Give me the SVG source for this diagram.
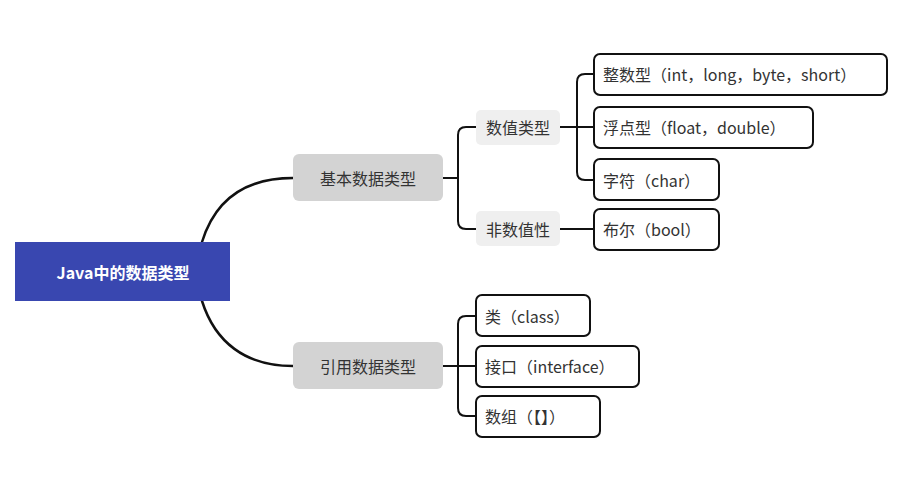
<svg xmlns="http://www.w3.org/2000/svg" width="901" height="484" viewBox="0 0 901 484">
<style>
text{font-family:"Noto Sans CJK SC","Noto Sans",sans-serif;font-size:16px;fill:#333;dominant-baseline:central}
.c{fill:none;stroke:#111;stroke-width:2.5;stroke-linecap:round}
.l{fill:none;stroke:#111;stroke-width:2}
.leaf{fill:#fff;stroke:#111;stroke-width:2}
.g1{fill:#d3d3d3}
.g2{fill:#efefef}
</style>
<rect width="901" height="484" fill="#fff"/>
<g id="connectors">
<path class="c" d="M202,242 C215,200 245,178 293,178"/>
<path class="c" d="M202,301 C215,342 245,366 293,366"/>
<path class="l" d="M443,178H458M476,127H466Q458,127 458,135V221Q458,229 466,229H476"/>
<path class="l" d="M560,127H577M594,74H585Q577,74 577,82V172Q577,180 585,180H594M577,127H594"/>
<path class="l" d="M560,229H594"/>
<path class="l" d="M443,366H458M476,316H466Q458,316 458,324V408Q458,416 466,416H476M458,366H476"/>
</g>
<g id="root"><rect x="15" y="242" width="215" height="59" fill="#3947b0"/><text x="123" y="272" text-anchor="middle" style="fill:#fff;font-weight:bold;font-size:16px">Java中的数据类型</text></g>
<g id="basic"><rect class="g1" x="293" y="154" width="150" height="47" rx="6"/><text x="368" y="178" text-anchor="middle">基本数据类型</text></g>
<g id="ref"><rect class="g1" x="293" y="342" width="150" height="47" rx="6"/><text x="368" y="366" text-anchor="middle">引用数据类型</text></g>
<g id="num"><rect class="g2" x="476" y="110" width="84" height="35" rx="5"/><text x="518" y="127" text-anchor="middle">数值类型</text></g>
<g id="nonnum"><rect class="g2" x="476" y="211" width="84" height="35" rx="5"/><text x="518" y="229" text-anchor="middle">非数值性</text></g>
<g id="int"><rect class="leaf" x="594" y="54" width="293" height="41" rx="6"/><text x="603" y="74">整数型（int，long，byte，short）</text></g>
<g id="float"><rect class="leaf" x="594" y="107" width="219" height="41" rx="6"/><text x="603" y="127">浮点型（float，double）</text></g>
<g id="char"><rect class="leaf" x="594" y="159" width="125" height="41" rx="6"/><text x="603" y="180">字符（char）</text></g>
<g id="bool"><rect class="leaf" x="594" y="209" width="125" height="41" rx="6"/><text x="603" y="229">布尔（bool）</text></g>
<g id="class"><rect class="leaf" x="476" y="295" width="114" height="41" rx="6"/><text x="485" y="316">类（class）</text></g>
<g id="iface"><rect class="leaf" x="476" y="346" width="163" height="41" rx="6"/><text x="485" y="366">接口（interface）</text></g>
<g id="arr"><rect class="leaf" x="476" y="396" width="124" height="41" rx="6"/><text x="485" y="416">数组（【】）</text></g>
</svg>
